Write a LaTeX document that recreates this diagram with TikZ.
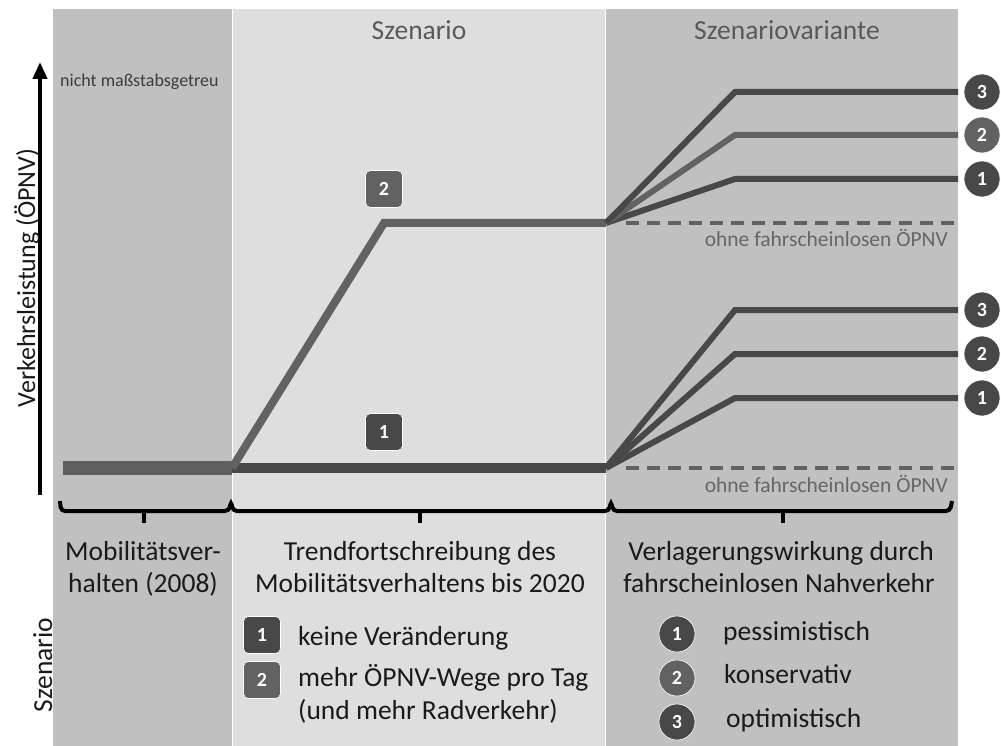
\documentclass[tikz,border=0pt]{standalone}
\usepackage{fontspec}
\setmainfont{Carlito}
\usetikzlibrary{arrows.meta}
\definecolor{panelA}{HTML}{C0C0C0}
\definecolor{panelB}{HTML}{DEDEDE}
\definecolor{dk}{HTML}{484848}
\definecolor{md}{HTML}{626262}
\definecolor{bar}{HTML}{5F5F5F}
\definecolor{hdrgray}{HTML}{595959}
\definecolor{lblgray}{HTML}{666666}
\definecolor{txt}{HTML}{1A1A1A}
\tikzset{
  big/.style={font=\fontsize{27.5}{32}\selectfont, text=txt, inner sep=0pt, anchor=base},
  hdr/.style={font=\fontsize{27.5}{32}\selectfont, text=hdrgray, inner sep=0pt, anchor=base},
  lbl/.style={font=\fontsize{21.5}{26}\selectfont, text=lblgray, inner sep=0pt, anchor=base east},
  sqbadge/.style={rectangle, rounded corners=5pt, minimum size=37pt, inner sep=0pt, draw=white, line width=0.6pt, text=white, font=\fontsize{20}{24}\selectfont\bfseries},
  circbadge/.style={circle, minimum size=36pt, inner sep=0pt, draw=white, line width=0.6pt, text=white, font=\fontsize{20}{24}\selectfont\bfseries},
  varline/.style={line width=6pt},
  dashline/.style={line width=3.5pt, color=md, dash pattern=on 13pt off 8pt},
  bracepath/.style={line width=4pt, black, rounded corners=4pt},
}
\begin{document}
\begin{tikzpicture}[x=1pt,y=-1pt]
\useasboundingbox (0,0) rectangle (1001,746);
\fill[white] (0,0) rectangle (1001,746);
% panels
\fill[panelA] (53,9) rectangle (231.5,746);
\fill[panelB] (233,9) rectangle (604.8,746);
\fill[panelA] (606.2,9) rectangle (958,746);

% headers
\node[hdr] (h1) at (419,40) {Szenario};
\node[hdr] (h2) at (787,40) {Szenariovariante};
\node[font=\fontsize{18}{22}\selectfont, text=txt!85, inner sep=0pt, anchor=base west] (ns) at (60,87) {nicht maßstabsgetreu};

% axis
\coordinate (ax0) at (40,495);
\coordinate (ax1) at (40,62);
\draw[line width=4pt, -{Triangle[length=17pt,width=14pt]}] (ax0) -- (ax1);
\node[big, rotate=90, font=\fontsize{26}{30}\selectfont] (ylab) at (35,278) {Verkehrsleistung (ÖPNV)};

% key coordinates
\coordinate (b0) at (63,468);
\coordinate (b1) at (232,468);
\coordinate (s1e) at (606,468);
\coordinate (s2k) at (384,223);
\coordinate (s2e) at (606,223);

% scenario lines
\draw[line width=14pt, bar] (b0) -- (b1);
\draw[line width=10pt, dk] (b1) -- (s1e);
\draw[line width=8pt, md] (b1) -- (s2k) -- (s2e);

% upper variants
\coordinate (u3k) at (735,92);  \coordinate (u3e) at (958,92);
\coordinate (u2k) at (735,135); \coordinate (u2e) at (958,135);
\coordinate (u1k) at (735,179); \coordinate (u1e) at (958,179);
\coordinate (ud0) at (626,223); \coordinate (ude) at (958,223);
\draw[dashline] (ud0) -- (ude);
\draw[varline, dk] (s2e) -- (u1k) -- (u1e);
\draw[varline, md] (s2e) -- (u2k) -- (u2e);
\draw[varline, dk] (s2e) -- (u3k) -- (u3e);
\node[lbl] (ul) at (948,247) {ohne fahrscheinlosen ÖPNV};

% lower variants
\coordinate (l3k) at (735,310); \coordinate (l3e) at (958,310);
\coordinate (l2k) at (735,354); \coordinate (l2e) at (958,354);
\coordinate (l1k) at (735,398); \coordinate (l1e) at (958,398);
\coordinate (ld0) at (626,468); \coordinate (lde) at (958,468);
\draw[dashline] (ld0) -- (lde);
\draw[varline, dk] (s1e) -- (l1k) -- (l1e);
\draw[varline, dk] (s1e) -- (l2k) -- (l2e);
\draw[varline, dk] (s1e) -- (l3k) -- (l3e);
\node[lbl] (ll) at (948,492) {ohne fahrscheinlosen ÖPNV};

% circle badges right
\node[circbadge, fill=dk] (c3u) at (982,92) {3};
\node[circbadge, fill=md] (c2u) at (982,135) {2};
\node[circbadge, fill=dk] (c1u) at (982,179) {1};
\node[circbadge, fill=dk] (c3l) at (982,310) {3};
\node[circbadge, fill=dk] (c2l) at (982,354) {2};
\node[circbadge, fill=dk] (c1l) at (982,398) {1};

% square badges
\node[sqbadge, fill=md] (sq2) at (384,189) {2};
\node[sqbadge, fill=dk] (sq1) at (384,432) {1};

% braces
\draw[bracepath] (60,501) -- (61,511) -- (229,511) -- (231,501) -- (233,511) -- (609,511) -- (611,501) -- (613,511) -- (950,511) -- (952,501);
\coordinate (t1a) at (144,511); \coordinate (t1b) at (144,523);
\coordinate (t2a) at (420,511); \coordinate (t2b) at (420,523);
\coordinate (t3a) at (783,511); \coordinate (t3b) at (783,523);
\draw[line width=4pt, black] (t1a) -- (t1b);
\draw[line width=4pt, black] (t2a) -- (t2b);
\draw[line width=4pt, black] (t3a) -- (t3b);

% bottom texts
\node[big] (m1) at (143,560) {Mobilitätsver-};
\node[big] (m2) at (143,592) {halten (2008)};
\node[big] (t1) at (420,560) {Trendfortschreibung des};
\node[big] (t2) at (420,592) {Mobilitätsverhaltens bis 2020};
\node[big] (v1) at (781,560) {Verlagerungswirkung durch};
\node[big] (v2) at (779,592) {fahrscheinlosen Nahverkehr};

% legend scenario
\node[sqbadge, fill=dk] (lg1) at (262,635) {1};
\node[sqbadge, fill=md] (lg2) at (262,680) {2};
\node[big, anchor=base west] (lt1) at (298,645) {keine Veränderung};
\node[big, anchor=base west] (lt2) at (298,686) {mehr ÖPNV-Wege pro Tag};
\node[big, anchor=base west] (lt3) at (298,719) {(und mehr Radverkehr)};

% legend variants
\node[circbadge, fill=dk] (lc1) at (677,634) {1};
\node[circbadge, fill=md] (lc2) at (677,678) {2};
\node[circbadge, fill=dk] (lc3) at (677,722) {3};
\node[big, anchor=base west] (lv1) at (723,640) {pessimistisch};
\node[big, anchor=base west] (lv2) at (724,683) {konservativ};
\node[big, anchor=base west] (lv3) at (726,727) {optimistisch};

% left vertical label
\node[big, rotate=90] (szl) at (52,665) {Szenario};
\end{tikzpicture}
\end{document}
